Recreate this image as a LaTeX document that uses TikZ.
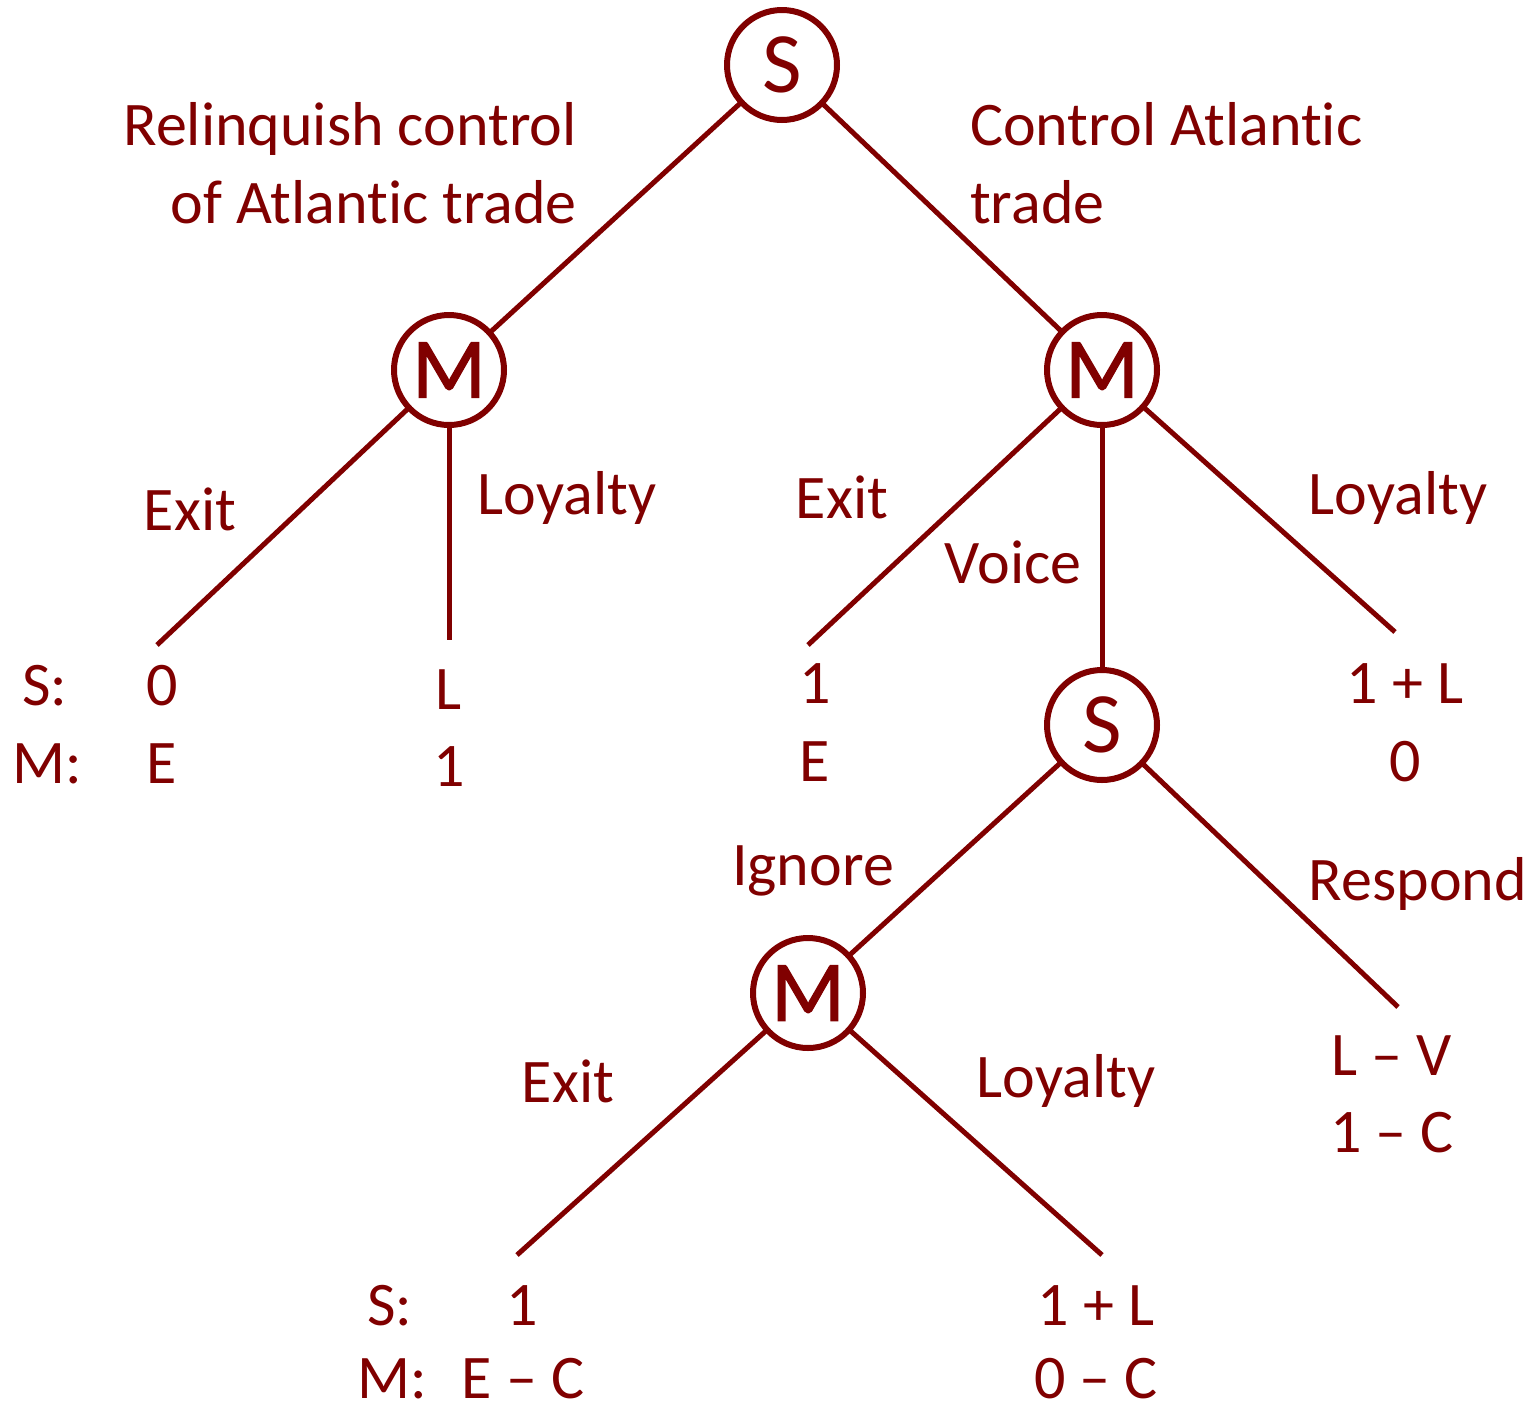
\documentclass[tikz,border=0pt]{standalone}
\usepackage{fontspec}
\setmainfont{Carlito}[Ligatures=NoCommon]
\newfontfamily\mfont{Carlito}[FakeBold=1.5]
\definecolor{maroon}{RGB}{128,0,0}
\begin{document}
\begin{tikzpicture}[x=1pt,y=-1pt,
  every node/.style={text=maroon},
  player/.style={circle,draw=maroon,line width=6pt,fill=white,minimum size=110pt,inner sep=0pt,font=\fontsize{86}{86}\selectfont},
  mplayer/.style={player,font=\mfont\fontsize{86}{86}\selectfont},
  edge/.style={draw=maroon,line width=5pt},
  lbl/.style={font=\fontsize{62}{62}\selectfont,inner sep=0pt},
]
\useasboundingbox (0,0) rectangle (1535,1409);
% leaf ends
\coordinate (lExit) at (157,645);
\coordinate (lLoy) at (449,640);
\coordinate (rExit) at (808,645);
\coordinate (rLoy) at (1395,632);
\coordinate (resp) at (1398,1007);
\coordinate (bExit) at (517,1255);
\coordinate (bLoy) at (1102,1255);
% players (positions)
\coordinate (cs1) at (782,65);
\coordinate (cm1) at (449,370);
\coordinate (cm2) at (1102,370);
\coordinate (cs2) at (1102,725);
\coordinate (cm3) at (808,993);
% edges
\draw[edge] (cs1) -- (cm1);
\draw[edge] (cs1) -- (cm2);
\draw[edge] (cm1) -- (lExit);
\draw[edge] (cm1) -- (lLoy);
\draw[edge] (cm2) -- (rExit);
\draw[edge] (cm2) -- (cs2);
\draw[edge] (cm2) -- (rLoy);
\draw[edge] (cs2) -- (cm3);
\draw[edge] (cs2) -- (resp);
\draw[edge] (cm3) -- (bExit);
\draw[edge] (cm3) -- (bLoy);
% player nodes on top
\node[player] (s1) at (cs1) {S};
\node[mplayer] (m1) at (cm1) {M};
\node[mplayer] (m2) at (cm2) {M};
\node[player] (s2) at (cs2) {S};
\node[mplayer] (m3) at (cm3) {M};
% action labels
\node[lbl,anchor=base east] (t1a) at (577,145) {Relinquish control};
\node[lbl,anchor=base east] (t1b) at (577,223) {of Atlantic trade};
\node[lbl,anchor=base west] (t2a) at (970,145) {Control Atlantic};
\node[lbl,anchor=base west] (t2b) at (970,223) {trade};
\node[lbl,anchor=base] (a1) at (190,530) {Exit};
\node[lbl,anchor=base] (a2) at (567,514) {Loyalty};
\node[lbl,anchor=base] (a3) at (842,518) {Exit};
\node[lbl,anchor=base] (a4) at (1013,583) {Voice};
\node[lbl,anchor=base] (a5) at (1398,514) {Loyalty};
\node[lbl,anchor=base] (a6) at (813,885) {Ignore};
\node[lbl,anchor=base] (a7) at (1418,900) {Respond};
\node[lbl,anchor=base] (a8) at (568,1102) {Exit};
\node[lbl,anchor=base] (a9) at (1066,1097) {Loyalty};
% payoffs
\node[lbl,anchor=base] (ps1) at (45,705) {S:};
\node[lbl,anchor=base] (pm1) at (47,783) {M:};
\node[lbl,anchor=base] (p1s) at (162,705) {0};
\node[lbl,anchor=base] (p1m) at (162,783) {E};
\node[lbl,anchor=base] (p2s) at (449,709) {L};
\node[lbl,anchor=base] (p2m) at (449,786) {1};
\node[lbl,anchor=base] (p3s) at (815,703) {1};
\node[lbl,anchor=base] (p3m) at (815,781) {E};
\node[lbl,anchor=base] (p4s) at (1405,703) {1 + L};
\node[lbl,anchor=base] (p4m) at (1405,781) {0};
\node[lbl,anchor=base] (p5s) at (1392,1075) {L – V};
\node[lbl,anchor=base] (p5m) at (1392,1152) {1 – C};
\node[lbl,anchor=base] (ps2) at (390,1325) {S:};
\node[lbl,anchor=base] (pm2) at (392,1398) {M:};
\node[lbl,anchor=base] (p6s) at (522,1325) {1};
\node[lbl,anchor=base] (p6m) at (523,1398) {E – C};
\node[lbl,anchor=base] (p7s) at (1096,1325) {1 + L};
\node[lbl,anchor=base] (p7m) at (1096,1398) {0 – C};
\end{tikzpicture}
\end{document}
